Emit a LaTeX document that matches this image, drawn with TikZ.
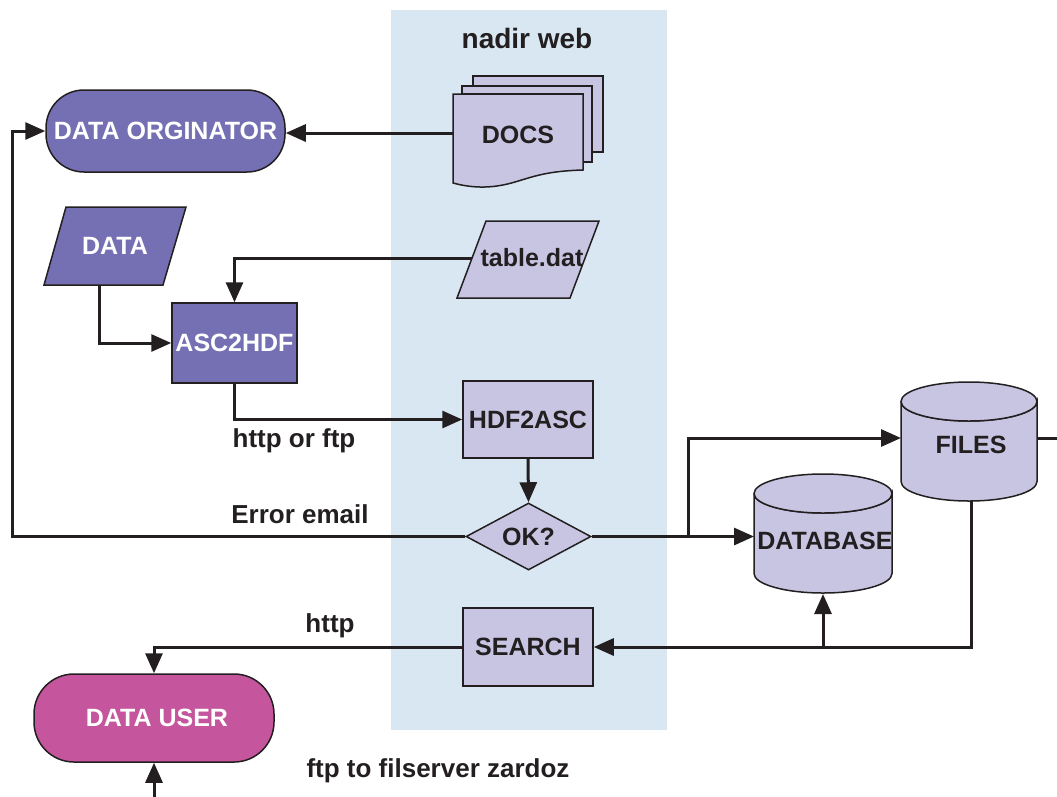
\documentclass[tikz,border=0pt]{standalone}
\usepackage{fontspec}
\setmainfont{Liberation Sans}
\usetikzlibrary{arrows.meta,shapes.geometric}
\definecolor{panel}{HTML}{D9E7F2}
\definecolor{darkfill}{HTML}{7570B3}
\definecolor{lightfill}{HTML}{C8C5E3}
\definecolor{pinkfill}{HTML}{C5569D}
\definecolor{ink}{HTML}{231F20}
\begin{document}
\begin{tikzpicture}[x=1pt,y=-1pt,
  lbl/.style={font=\fontsize{25}{29}\selectfont\bfseries, text=ink, inner sep=0pt},
  wlbl/.style={font=\fontsize{25}{29}\selectfont\bfseries, text=white},
  box/.style={draw=ink, line width=1.5pt},
  wire/.style={draw=ink, line width=3pt},
  conn/.style={draw=ink, line width=3pt, -{Triangle[length=20pt,width=17pt]}},
  pill/.style={box, wlbl, rectangle, rounded corners=38pt},
  procbox/.style={box, lbl, fill=lightfill, rectangle, inner sep=0pt}
]
\useasboundingbox (0,0) rectangle (1057,796);
% web panel
\fill[panel] (391,10) rectangle (667,730);
\node[lbl, font=\fontsize{28}{32}\selectfont\bfseries] (web) at (527,38) {nadir web};

% DATA ORGINATOR
\node[pill, fill=darkfill, minimum width=239pt, minimum height=82pt, inner sep=2pt] (orig) at (165.5,131) {DATA ORGINATOR};

% DOCS (stacked documents)
\draw[box, fill=lightfill] (473,76) -- (603,76) -- (603,152) -- (592,152) -- (592,86) -- (473,86) -- cycle;
\draw[box, fill=lightfill] (462,86) -- (592,86) -- (592,162) -- (583,162) -- (583,94) -- (462,94) -- cycle;
\draw[box, fill=lightfill] (453,94) -- (583,94) -- (583,170)
   .. controls (548,171) and (535,176) .. (515,182)
   .. controls (495,188) and (475,189) .. (453,183) -- cycle;
\node[lbl] (docs) at (518,135) {DOCS};
\coordinate (docsW) at (453,133);

% table.dat
\draw[box, fill=lightfill] (486,221) -- (599,221) -- (570,298) -- (457,298) -- cycle;
\node[lbl] (table) at (532,258) {table.dat};
\coordinate (tableW) at (472,258);

% DATA
\draw[box, fill=darkfill] (66,207) -- (186,207) -- (163,285) -- (44,285) -- cycle;
\node[wlbl] (data) at (115,246) {DATA};
\coordinate (dataS) at (99,285);

% ASC2HDF
\node[box, wlbl, fill=darkfill, minimum width=125pt, minimum height=80pt, inner sep=0pt] (asc) at (234.5,343) {ASC2HDF};

% HDF2ASC
\node[procbox, minimum width=130pt, minimum height=77pt] (hdf) at (528,419.5) {HDF2ASC};

% OK?
\node[box, lbl, fill=lightfill, diamond, aspect=1.87, inner sep=0pt, minimum width=125pt, minimum height=67pt] (ok) at (528.5,536.5) {OK?};

% SEARCH
\node[procbox, minimum width=130pt, minimum height=78pt] (search) at (528,647) {SEARCH};

% FILES cylinder
\filldraw[box, fill=lightfill] (901,401.5) -- (901,481.5)
   arc[start angle=180, end angle=0, x radius=68, y radius=19.5] -- (1037,401.5)
   arc[start angle=0, end angle=180, x radius=68, y radius=19.5];
\draw[box, fill=lightfill] (969,401.5) ellipse[x radius=68, y radius=19.5];
\node[lbl] (files) at (971,445) {FILES};
\coordinate (filesW) at (901,438);
\coordinate (filesE) at (1037,438);
\coordinate (filesS) at (971,501);
\coordinate (offright) at (1057,438);

% DATABASE cylinder
\filldraw[box, fill=lightfill] (754,493.5) -- (754,573.5)
   arc[start angle=180, end angle=0, x radius=69, y radius=19.5] -- (892,493.5)
   arc[start angle=0, end angle=180, x radius=69, y radius=19.5];
\draw[box, fill=lightfill] (823,493.5) ellipse[x radius=69, y radius=19.5];
\node[lbl] (db) at (825,541) {DATABASE};
\coordinate (dbW) at (754,536.5);
\coordinate (dbS) at (823,594);

% DATA USER
\node[pill, fill=pinkfill, rounded corners=40pt, minimum width=240pt, minimum height=88pt] (user) at (154,718) {\hspace*{6pt}DATA USER};

% labels
\node[lbl, font=\fontsize{26}{30}\selectfont\bfseries] (lhttpftp) at (294,441) {http or ftp};
\node[lbl, font=\fontsize{26}{30}\selectfont\bfseries] (lerr) at (300,514) {Error email};
\node[lbl, font=\fontsize{26}{30}\selectfont\bfseries] (lhttp) at (330,626) {http};
\node[lbl, font=\fontsize{26}{30}\selectfont\bfseries] (lftp) at (438,771) {ftp to filserver zardoz};

% helper coordinates
\coordinate (errcorner) at (12,536.5);
\coordinate (split) at (688,536.5);
\coordinate (dbjoin) at (823,647);
\coordinate (ftpin) at (154,798);

% connectors
\draw[conn] (docsW) -- (orig.east |- docsW);
\draw[conn] (tableW) -| (asc.north);
\draw[conn] (dataS) |- (asc.west);
\draw[conn] (asc.south) |- (hdf.west);
\draw[conn] (hdf.south) -- (ok.north);
\draw[conn] (ok.west) -- (errcorner) |- (orig.west);
\draw[wire] (ok.east) -- (split);
\draw[conn] (split) |- (filesW);
\draw[conn] (split) -- (dbW);
\draw[wire] (filesE) -- (offright);
\draw[conn] (filesS) |- (search.east);
\draw[conn] (dbjoin) -- (dbS);
\draw[conn] (search.west) -| (user.north);
\draw[conn] (ftpin) -- (user.south);
\end{tikzpicture}
\end{document}
